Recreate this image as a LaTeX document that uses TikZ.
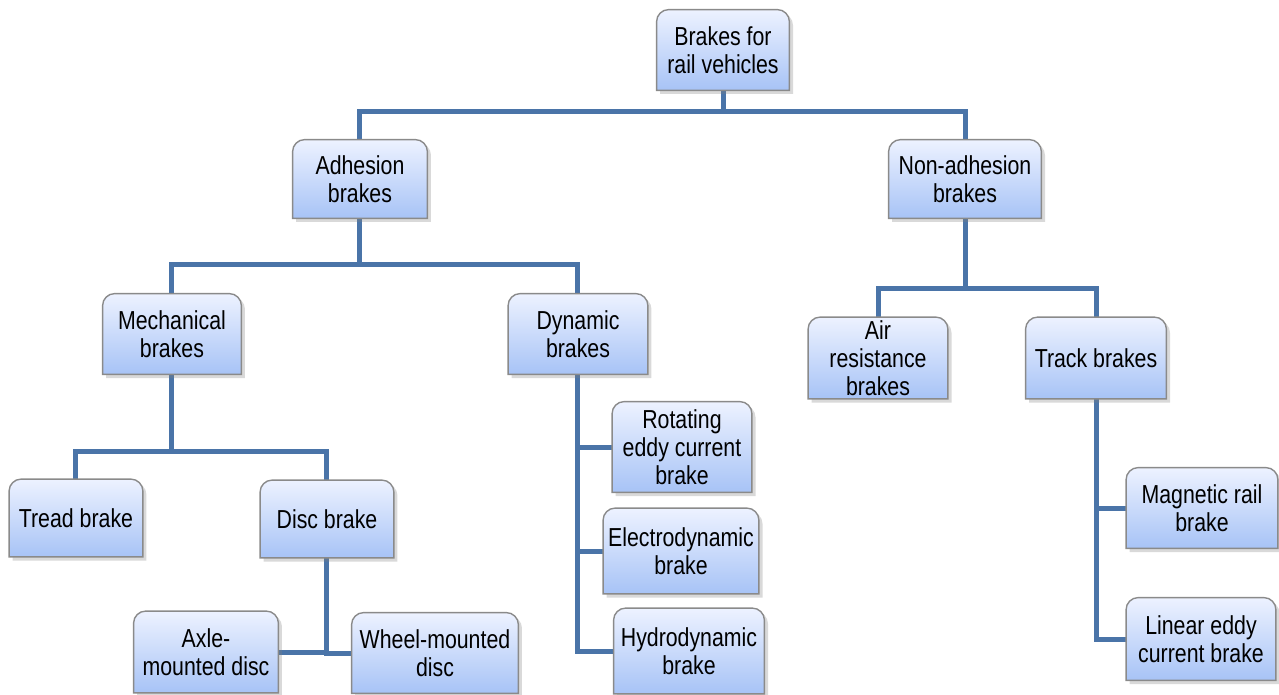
\documentclass[tikz,border=0pt]{standalone}
\usepackage{fontspec}
\setmainfont[FakeStretch=0.82]{Liberation Sans}
\usepackage[dvipsnames]{xcolor}
\usetikzlibrary{shadows,backgrounds}

\definecolor{linkblue}{HTML}{4A74A8}
\definecolor{boxtop}{HTML}{EDF2FF}
\definecolor{boxbot}{HTML}{A7C3F6}
\definecolor{boxline}{HTML}{8A8A8A}

\begin{document}
\begin{tikzpicture}[node distance=70pt,
  brake box/.style={inner sep=0pt,align=center,font=\fontsize{13pt}{14pt}\selectfont},
  brake shade/.style={top color=boxtop,bottom color=boxbot,draw=boxline,line width=0.7pt,
    drop shadow={opacity=0.3,shadow xshift=1.8pt,shadow yshift=-1.8pt}},
  link/.style={draw=linkblue,line width=2.5pt}]
            \node[brake box,minimum width=66pt,minimum height=40pt] (root) at (0,0) {Brakes for\\rail vehicles};
            \useasboundingbox ([xshift=-361.5pt,yshift=25pt]root.center) rectangle ([xshift=278pt,yshift=-322.5pt]root.center);

            \node[brake box,minimum width=67pt,minimum height=39pt] (adh) [below of = root, xshift = -181.5pt, yshift = 5.5pt] {Adhesion\\brakes};
            \node[brake box,minimum width=76pt,minimum height=39pt] (nonadh) [below of = root, xshift = 121pt, yshift = 5.5pt] {Non-adhesion\\brakes};

            \node[brake box,minimum width=69pt,minimum height=40pt] (mech) [below of = adh, xshift = -94pt, yshift = -7.5pt] {Mechanical\\brakes};
            \node[brake box,minimum width=69.5pt,minimum height=40pt] (dyn) [below of = adh, xshift = 109pt, yshift = -7.5pt] {Dynamic\\brakes};
            \node[brake box,minimum width=69.5pt,minimum height=40.5pt] (air) [below of = nonadh, xshift = -43.5pt, yshift = -19.5pt] {Air\\resistance\\brakes};
            \node[brake box,minimum width=70pt,minimum height=40.5pt] (track) [below of = nonadh, xshift = 65.5pt, yshift = -19.5pt] {Track brakes};

            \node[brake box,minimum width=66.5pt,minimum height=38.5pt] (tread) [below of = mech, xshift = -48pt, yshift = -22pt] {Tread brake};
            \node[brake box,minimum width=66.5pt,minimum height=38.5pt] (disc) [below of = mech, xshift = 77.5pt, yshift = -22.5pt] {Disc brake};
            \node[brake box,minimum width=72pt,minimum height=40.5pt] (axle) [below of = disc, xshift = -60.5pt, yshift = 3.5pt] {Axle-\\mounted disc};
            \node[brake box,minimum width=83pt,minimum height=40pt] (wheel) [below of = disc, xshift = 54pt, yshift = 3pt] {Wheel-mounted\\disc};

            \node[brake box,minimum width=69.5pt,minimum height=45pt] (rot) [below of = dyn, xshift = 52pt, yshift = 13.5pt] {Rotating\\eddy current\\brake};
            \node[brake box,minimum width=77.5pt,minimum height=42.5pt] (elec) [below of = rot, xshift = -0.5pt, yshift = 18pt] {Electrodynamic\\brake};
            \node[brake box,minimum width=75pt,minimum height=42.5pt] (hydro) [below of = elec, xshift = 4pt, yshift = 20pt] {Hydrodynamic\\brake};

            \node[brake box,minimum width=75.5pt,minimum height=40pt] (mag) [below of = track, xshift = 53pt, yshift = -5pt] {Magnetic rail\\brake};
            \node[brake box,minimum width=74.5pt,minimum height=41pt] (lin) [below of = mag, xshift = -0.5pt, yshift = 4.5pt] {Linear eddy\\current brake};

            \begin{scope}[on background layer]
                % connectors
                \path[link]
                    (root.south) -- ++(0,-10.5pt) -| (adh.north)
                    (root.south) -- ++(0,-10.5pt) -| (nonadh.north)
                    (adh.south) -- ++(0,-23pt) -| (mech.north)
                    (adh.south) -- ++(0,-23pt) -| (dyn.north)
                    (nonadh.south) -- ++(0,-35pt) -| (air.north)
                    (nonadh.south) -- ++(0,-35pt) -| (track.north)
                    (mech.south) -- ++(0,-38.5pt) -| (tread.north)
                    (mech.south) -- ++(0,-38.5pt) -| (disc.north)
                    (disc.south) |- (axle.east)
                    (disc.south) |- (wheel.west)
                    (dyn.south) |- (rot.west)
                    (dyn.south) |- (elec.west)
                    (dyn.south) |- (hydro.west)
                    (track.south) |- (mag.west)
                    (track.south) |- (lin.west)
                    ;
                % boxes, rounded on top only
                \foreach \n in {root,adh,nonadh,mech,dyn,air,track,tread,disc,axle,wheel,rot,elec,hydro,mag,lin}
                    \shade[brake shade] (\n.south west) -- ([yshift=-6pt]\n.north west)
                        arc[start angle=180,end angle=90,radius=6pt] -- ([xshift=-6pt]\n.north east)
                        arc[start angle=90,end angle=0,radius=6pt] -- (\n.south east) -- cycle;
            \end{scope}
        \end{tikzpicture}
\end{document}
